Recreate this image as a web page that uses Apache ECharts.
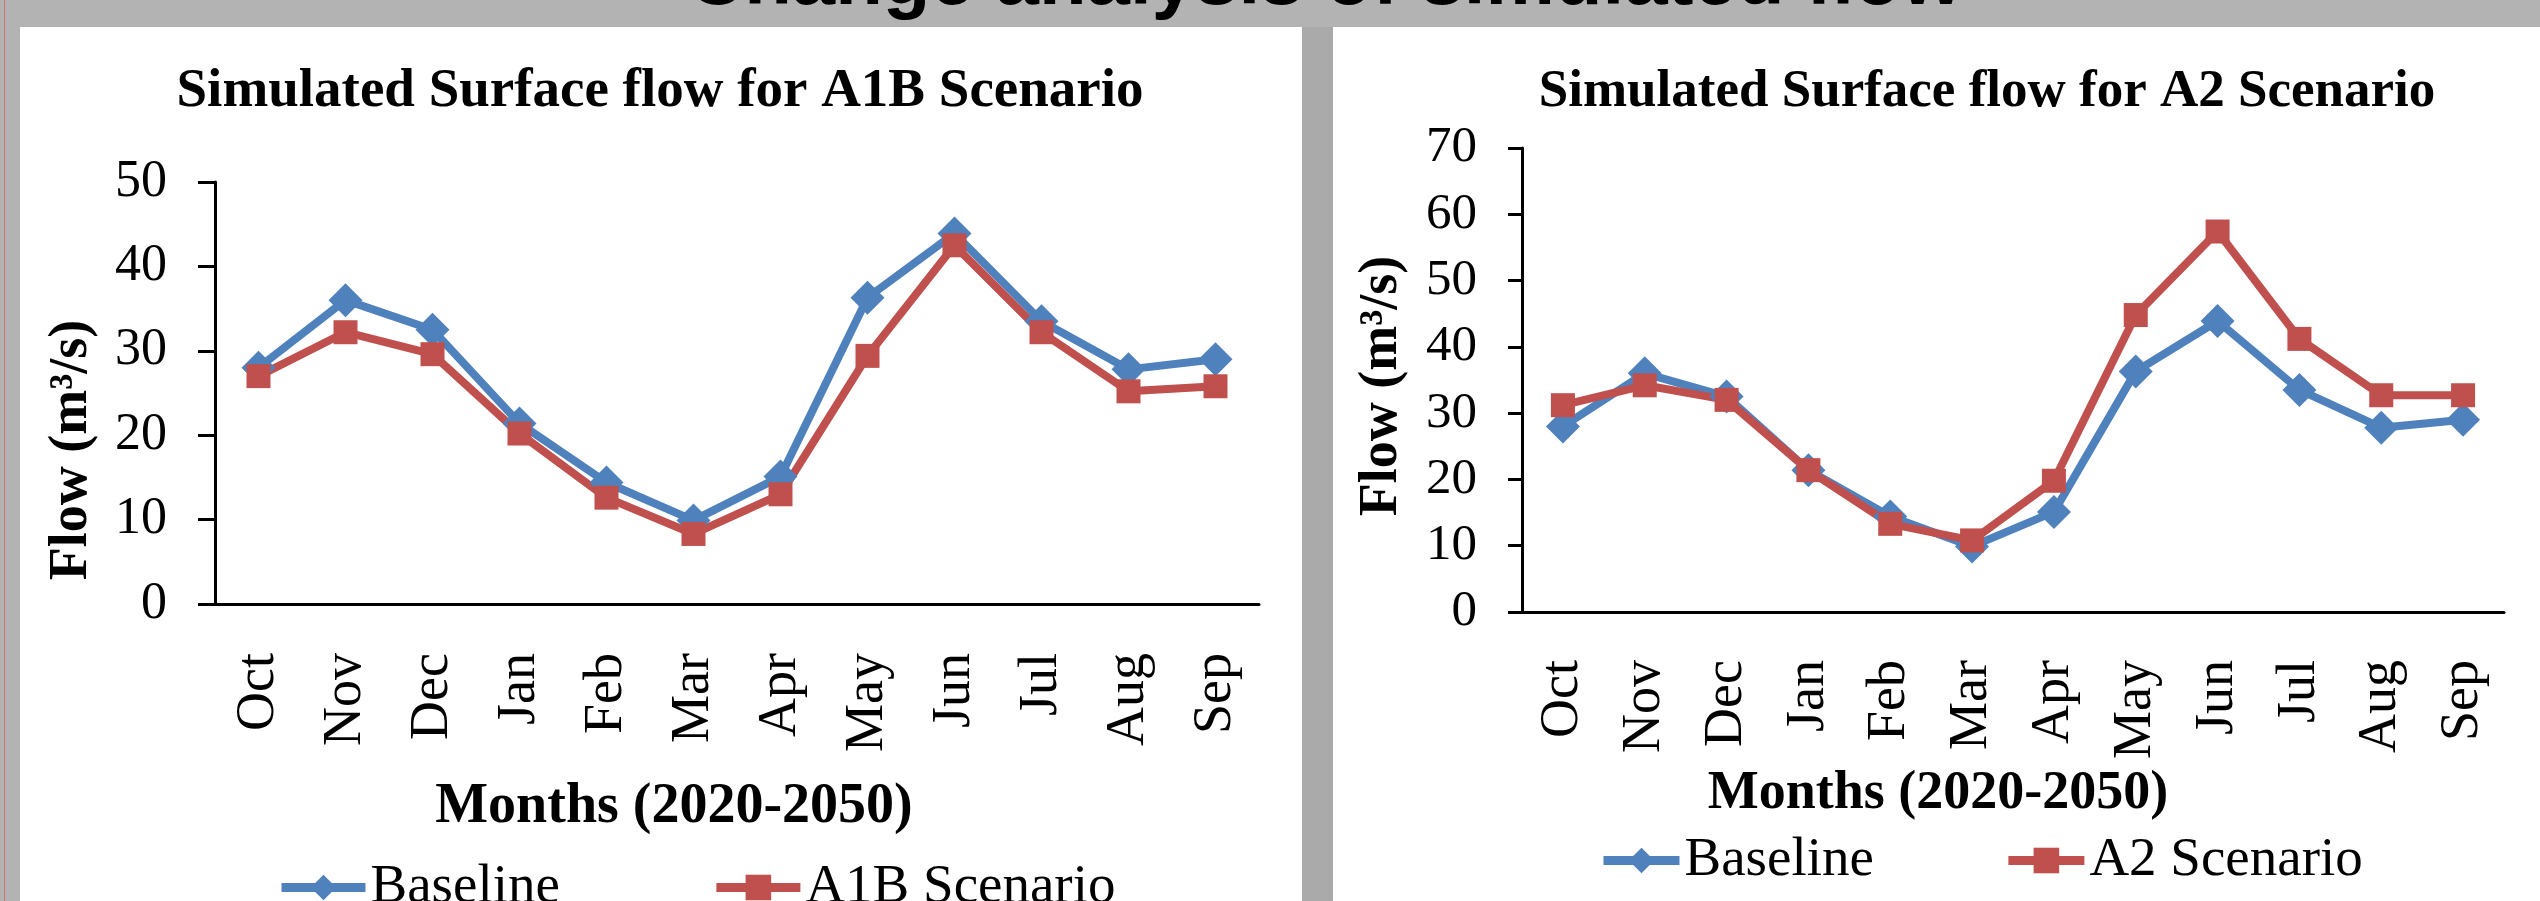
<!DOCTYPE html>
<html>
<head>
<meta charset="utf-8">
<title>Change analysis of simulated flow</title>
<script src="https://cdn.jsdelivr.net/npm/echarts@6/dist/echarts.min.js"></script>
<style>
  html, body { margin: 0; padding: 0; background: #b3b3b3; }
  #chart { width: 2540px; height: 901px; }
</style>
</head>
<body>
<div id="chart"></div>
<script>
// ---- data ----
var months = ['Oct', 'Nov', 'Dec', 'Jan', 'Feb', 'Mar', 'Apr', 'May', 'Jun', 'Jul', 'Aug', 'Sep'];
var baseline = [28, 36, 32.5, 21.4, 14.4, 9.9, 15.1, 36.3, 43.9, 33.5, 27.8, 29];
var a1bScenario = [27, 32.2, 29.6, 20.2, 12.6, 8.3, 13, 29.4, 42.5, 32.2, 25.2, 25.8];
var a2Scenario = [31.2, 34.2, 32, 21.4, 13.3, 10.8, 19.8, 44.8, 57.4, 41.2, 32.7, 32.7];
var yMaxA1B = 50;
var yMaxA2 = 70;
var yStep = 10;

var BLUE = '#4F81BD';
var RED = '#C0504D';
var SERIF = '"Liberation Serif", "Times New Roman", serif';

var chart = echarts.init(document.getElementById('chart'));

function xAxisFor(gridIndex, tickLen, margin) {
    return {
        type: 'category',
        gridIndex: gridIndex,
        data: months,
        boundaryGap: true,
        axisLine: { lineStyle: { color: '#000', width: 3 } },
        axisTick: { length: tickLen, lineStyle: { color: '#000', width: 3 } },
        axisLabel: {
            rotate: 90,
            interval: 0,
            margin: margin,
            color: '#000',
            fontFamily: SERIF,
            fontSize: 54
        },
        splitLine: { show: false }
    };
}

function yAxisFor(gridIndex, max, fontSize, margin, tickLen) {
    return {
        type: 'value',
        gridIndex: gridIndex,
        min: 0,
        max: max,
        interval: yStep,
        axisLine: { show: true, lineStyle: { color: '#000', width: 3 } },
        axisTick: { show: true, length: tickLen, lineStyle: { color: '#000', width: 3 } },
        axisLabel: {
            margin: margin,
            color: '#000',
            fontFamily: SERIF,
            fontSize: fontSize
        },
        splitLine: { show: false }
    };
}

function lineSeries(name, data, idx, color, symbol, size) {
    return {
        name: name,
        type: 'line',
        xAxisIndex: idx,
        yAxisIndex: idx,
        data: data,
        color: color,
        symbol: symbol,
        symbolSize: size,
        lineStyle: { width: 8, color: color },
        itemStyle: { color: color },
        animation: false
    };
}

function label(text, x, y, size, rotate) {
    return {
        type: 'text',
        x: x,
        y: y,
        rotation: rotate ? Math.PI / 2 : 0,
        style: {
            text: text,
            fill: '#000',
            font: 'bold ' + size + 'px ' + SERIF,
            textAlign: 'center',
            textVerticalAlign: 'middle'
        }
    };
}

function legendFor(names, left, top, iconW, gap) {
    return {
        data: names,
        left: left,
        top: top,
        itemWidth: iconW,
        itemHeight: 32,
        itemGap: gap,
        lineStyle: { width: 9 },
        textStyle: { color: '#000', fontFamily: SERIF, fontSize: 55 }
    };
}

var option = {
    backgroundColor: '#b3b3b3',
    animation: false,
    grid: [
        { left: 215, top: 182, width: 1044, height: 422 },
        { left: 1522, top: 148, width: 982, height: 464 }
    ],
    xAxis: [xAxisFor(0, 19, 49), xAxisFor(1, 15, 48)],
    yAxis: [yAxisFor(0, yMaxA1B, 52, 48, 17), yAxisFor(1, yMaxA2, 51, 45, 14)],
    legend: [
        legendFor(['Baseline', 'A1B Scenario'], 272, 855, 84, 152),
        legendFor(['Baseline', 'A2 Scenario'], 1594, 828, 76, 130)
    ],
    series: [
        lineSeries('Baseline', baseline, 0, BLUE, 'diamond', 34),
        lineSeries('A1B Scenario', a1bScenario, 0, RED, 'rect', 24),
        lineSeries('Baseline', baseline, 1, BLUE, 'diamond', 34),
        lineSeries('A2 Scenario', a2Scenario, 1, RED, 'rect', 24)
    ],
    graphic: [
        // slide panels
        { type: 'rect', z: -100, shape: { x: 20, y: 27, width: 1282, height: 874 }, style: { fill: '#fff' } },
        { type: 'rect', z: -100, shape: { x: 1302, y: 27, width: 31, height: 874 }, style: { fill: '#aaaaaa' } },
        { type: 'rect', z: -100, shape: { x: 1333, y: 27, width: 1207, height: 874 }, style: { fill: '#fff' } },
        { type: 'rect', z: -100, shape: { x: 4, y: 0, width: 1, height: 901 }, style: { fill: '#cc7777' } },
        // slide heading, mostly cut off at the top
        {
            type: 'text', x: 1325, y: -18,
            style: {
                text: 'Change analysis of simulated flow',
                fill: '#000',
                font: 'bold 78px "Liberation Sans", Arial, sans-serif',
                textAlign: 'center',
                textVerticalAlign: 'middle'
            }
        },
        label('Simulated Surface flow for A1B Scenario', 660, 92, 55, false),
        label('Simulated Surface flow for A2 Scenario', 1987, 92, 53, false),
        label('Flow (m\u00b3/s)', 72, 450, 54, true),
        label('Flow (m\u00b3/s)', 1382, 386, 54, true),
        label('Months (2020-2050)', 674, 808, 56, false),
        label('Months (2020-2050)', 1938, 794, 54, false)
    ]
};

chart.setOption(option);
</script>
</body>
</html>
